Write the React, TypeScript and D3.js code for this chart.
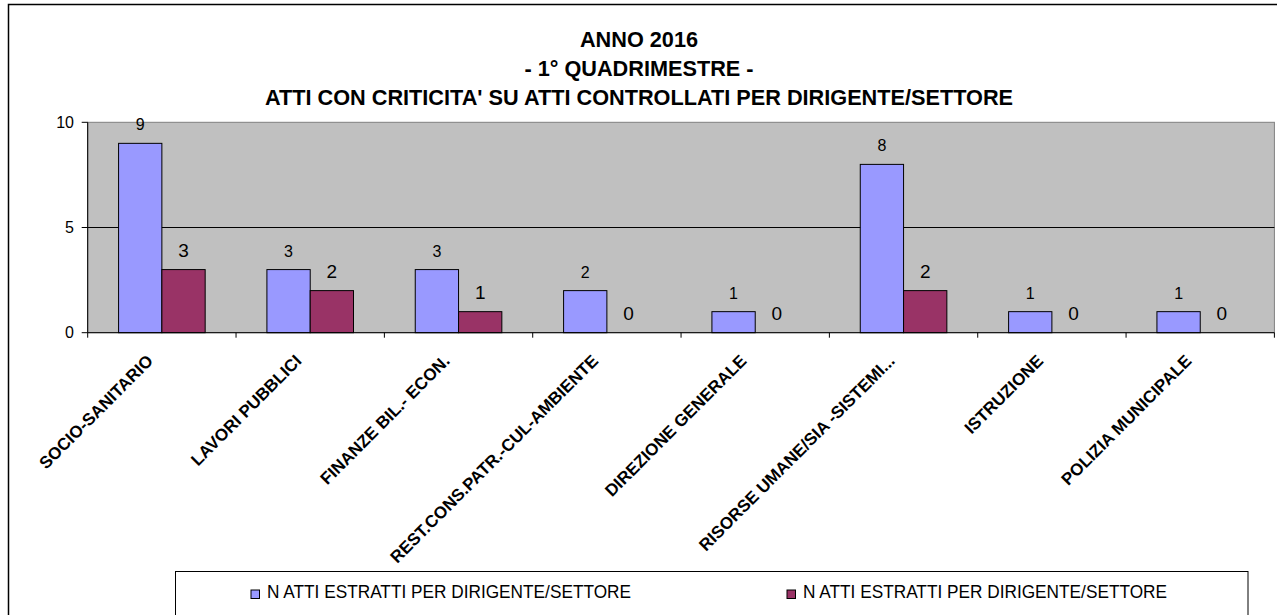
import * as d3 from "d3"

const categories = [
  "SOCIO-SANITARIO",
  "LAVORI PUBBLICI",
  "FINANZE BIL.- ECON.",
  "REST.CONS.PATR.-CUL-AMBIENTE",
  "DIREZIONE GENERALE",
  "RISORSE UMANE/SIA -SISTEMI...",
  "ISTRUZIONE",
  "POLIZIA MUNICIPALE",
]
const estratti = [9, 3, 3, 2, 1, 8, 1, 1]
const criticita = [3, 2, 1, 0, 0, 2, 0, 0]
const seriesNames = ["N ATTI ESTRATTI PER DIRIGENTE/SETTORE", "N ATTI ESTRATTI PER DIRIGENTE/SETTORE"]
const yTicks = [0, 5, 10]
const titleLines = ["ANNO 2016", "- 1° QUADRIMESTRE -", "ATTI CON CRITICITA' SU ATTI CONTROLLATI PER DIRIGENTE/SETTORE"]

const COLORS = ["#9999FF", "#993366"]
const FONT = "'Liberation Sans', Arial, sans-serif"

const W = 1277
const H = 615
const plot = { left: 87.7, right: 1274.4, top: 122.3, bottom: 332.7 }

export default function App() {
  const series = [estratti, criticita]
  const x0 = d3.scaleBand<string>().domain(categories).range([plot.left, plot.right]).padding(0)
  // two bars per category, Excel-style gap on both sides
  const x1 = d3
    .scaleBand<number>()
    .domain([0, 1])
    .range([0, x0.bandwidth()])
    .paddingInner(0)
    .paddingOuter(0.713)
  const y = d3.scaleLinear().domain([0, 10]).range([plot.bottom, plot.top])

  const labelSize = [16, 19]
  const boundaries = d3.range(categories.length + 1).map((i) => plot.left + i * x0.step())

  return (
    <svg width={W} height={H} style={{ position: "absolute", left: 0, top: 0 }} fontFamily={FONT}>
      <rect x={0} y={0} width={W} height={H} fill="white" />
      <rect x={8.5} y={4.5} width={W + 20} height={H + 20} fill="none" stroke="black" strokeWidth={1.5} />

      {titleLines.map((t, i) => (
        <text key={i} x={639} y={47 + i * 29} textAnchor="middle" fontSize={21.7} fontWeight="bold">
          {t}
        </text>
      ))}

      <rect
        x={plot.left}
        y={plot.top}
        width={plot.right - plot.left}
        height={plot.bottom - plot.top}
        fill="#C0C0C0"
        stroke="#808080"
        strokeWidth={1}
      />
      {yTicks
        .filter((t) => t > 0 && t < 10)
        .map((t) => (
          <line key={t} x1={plot.left} x2={plot.right} y1={y(t)} y2={y(t)} stroke="#000" strokeWidth={1} />
        ))}

      {categories.map((c, i) =>
        series.map((vals, s) => {
          const v = vals[i]
          const bx = (x0(c) ?? 0) + (x1(s) ?? 0)
          const bw = x1.bandwidth()
          return (
            <g key={c + s}>
              {v > 0 && (
                <rect x={bx} y={y(v)} width={bw} height={y(0) - y(v)} fill={COLORS[s]} stroke="#000" strokeWidth={1} />
              )}
              <text x={bx + bw / 2} y={y(v) - 13} textAnchor="middle" fontSize={labelSize[s]}>
                {v}
              </text>
            </g>
          )
        })
      )}

      {/* axes */}
      <line x1={plot.left} x2={plot.left} y1={plot.top} y2={plot.bottom} stroke="#000" />
      <line x1={plot.left} x2={plot.right} y1={plot.bottom} y2={plot.bottom} stroke="#000" />
      {yTicks.map((t) => (
        <g key={t}>
          <line x1={plot.left - 6} x2={plot.left} y1={y(t)} y2={y(t)} stroke="#000" />
          <text x={74} y={y(t) + 5.7} textAnchor="end" fontSize={16}>
            {t}
          </text>
        </g>
      ))}
      {boundaries.map((bx, i) => (
        <line key={i} x1={bx} x2={bx} y1={plot.bottom} y2={plot.bottom + 5} stroke="#000" />
      ))}
      {categories.map((c) => {
        const cx = (x0(c) ?? 0) + x0.bandwidth() / 2
        return (
          <text
            key={c}
            transform={`translate(${cx - 7.7},362) rotate(-45)`}
            textAnchor="end"
            fontSize={17}
            fontWeight="bold"
          >
            {c}
          </text>
        )
      })}

      {/* legend */}
      <rect x={175.5} y={571.5} width={1072.5} height={60} fill="white" stroke="#000" strokeWidth={1} />
      {seriesNames.map((name, s) => {
        const lx = [267, 803][s]
        return (
          <g key={s}>
            <rect x={lx - 16} y={590} width={8.5} height={8.5} fill={COLORS[s]} stroke="#000" strokeWidth={1} />
            <text x={lx} y={598.3} fontSize={18.5} textLength={364} lengthAdjust="spacingAndGlyphs">
              {name}
            </text>
          </g>
        )
      })}
    </svg>
  )
}
